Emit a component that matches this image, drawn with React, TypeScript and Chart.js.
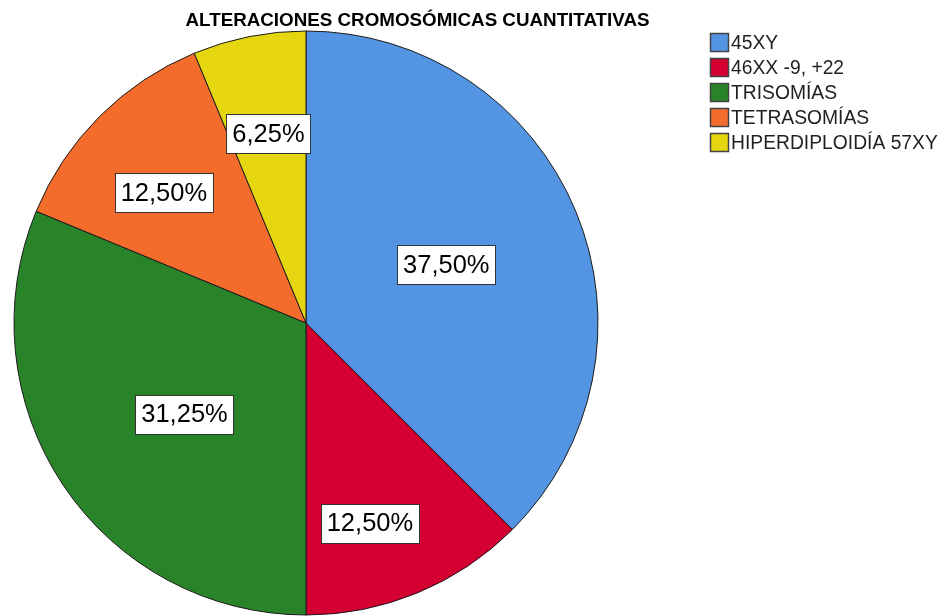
import React, { useEffect, useRef } from "react";
import { Chart, registerables } from "chart.js";

Chart.register(...registerables);

const TITLE = "ALTERACIONES CROMOSÓMICAS CUANTITATIVAS";
const categories = ["45XY", "46XX -9, +22", "TRISOMÍAS", "TETRASOMÍAS", "HIPERDIPLOIDÍA 57XY"];
const percentages = [37.5, 12.5, 31.25, 12.5, 6.25];
const colors = ["#5495E3", "#D50032", "#298429", "#F36C2C", "#E5D60F"];

// label placement styling (fraction of radius, angle shift in degrees)
const labelRadiusFrac = [0.52, 0.72, 0.52, 0.66, 0.66];
const labelAngleShift = [0, 4.8, -3.1, -2.5, 0];

const FONT = "'Liberation Sans', Arial, sans-serif";

const overlayPlugin = {
  id: "overlay",
  afterDatasetsDraw(chart: any) {
    const ctx = chart.ctx;
    const meta = chart.getDatasetMeta(0);
    const data = chart.data.datasets[0].data as number[];
    const total = data.reduce((a: number, b: number) => a + b, 0);
    ctx.save();
    ctx.font = `25.5px ${FONT}`;
    ctx.textAlign = "center";
    ctx.textBaseline = "middle";
    meta.data.forEach((arc: any, i: number) => {
      const p = arc.getProps(["x", "y", "startAngle", "endAngle", "outerRadius"], true);
      const mid = (p.startAngle + p.endAngle) / 2 + (labelAngleShift[i] * Math.PI) / 180;
      const r = p.outerRadius * labelRadiusFrac[i];
      const cx = p.x + Math.cos(mid) * r;
      const cy = p.y + Math.sin(mid) * r;
      const txt = ((data[i] / total) * 100).toFixed(2).replace(".", ",") + "%";
      const w = ctx.measureText(txt).width + 12;
      const h = 39;
      const bx = Math.round(cx - w / 2) + 0.5;
      const by = Math.round(cy - h / 2) + 0.5;
      ctx.fillStyle = "#ffffff";
      ctx.fillRect(bx, by, Math.round(w), h);
      ctx.strokeStyle = "#333333";
      ctx.lineWidth = 1;
      ctx.strokeRect(bx, by, Math.round(w), h);
      ctx.fillStyle = "#000000";
      ctx.fillText(txt, cx, cy + 1);
    });
    ctx.restore();
  },
  afterDraw(chart: any) {
    const ctx = chart.ctx;
    ctx.save();
    ctx.fillStyle = "#000000";
    ctx.font = `bold 18.8px ${FONT}`;
    ctx.textAlign = "center";
    ctx.textBaseline = "middle";
    ctx.fillText(TITLE, 417.5, 20.5);

    ctx.font = `19.3px ${FONT}`;
    ctx.textAlign = "left";
    chart.data.labels.forEach((lab: string, i: number) => {
      const cy = 42.5 + i * 25;
      ctx.fillStyle = colors[i];
      ctx.fillRect(710.5, cy - 9, 18, 18);
      ctx.strokeStyle = "#444444";
      ctx.lineWidth = 1.5;
      ctx.strokeRect(710.5, cy - 9, 18, 18);
      ctx.fillStyle = "#1f1f1f";
      ctx.fillText(lab, 731, cy + 1);
    });
    ctx.restore();
  },
};

export default function App() {
  const ref = useRef<HTMLCanvasElement>(null);
  useEffect(() => {
    document.body.style.margin = "0";
    const chart = new Chart(ref.current!, {
      type: "pie",
      data: {
        labels: categories,
        datasets: [
          {
            data: percentages,
            backgroundColor: colors,
            borderColor: "#1a1a1a",
            borderWidth: 1,
          },
        ],
      },
      options: {
        responsive: false,
        animation: false,
        radius: 292,
        layout: { padding: { left: 14, right: 349, top: 31, bottom: 1 } },
        plugins: {
          legend: { display: false },
          title: { display: false },
          tooltip: { enabled: false },
        },
      } as any,
      plugins: [overlayPlugin],
    });
    return () => chart.destroy();
  }, []);
  return (
    <div style={{ width: 947, height: 616, background: "#fff" }}>
      <canvas ref={ref} width={947} height={616} />
    </div>
  );
}
